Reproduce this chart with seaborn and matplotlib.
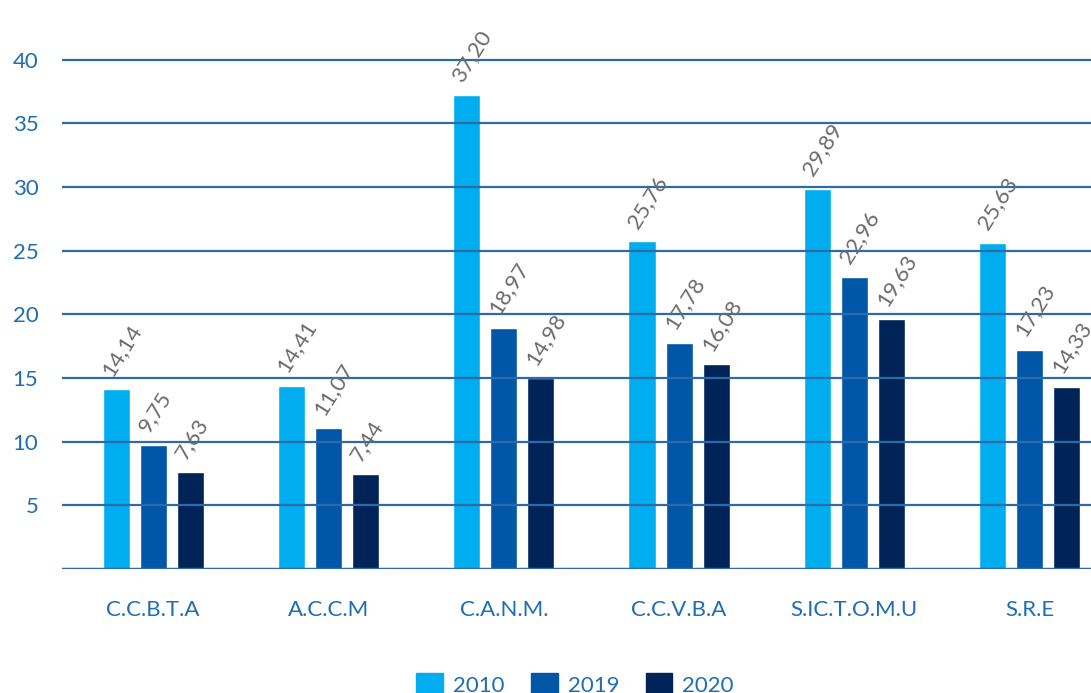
import numpy as np
import pandas as pd
import matplotlib
matplotlib.use("Agg")
import matplotlib.pyplot as plt
import seaborn as sns

# data
categories = ["C.C.B.T.A", "A.C.C.M", "C.A.N.M.", "C.C.V.B.A", "S.IC.T.O.M.U", "S.R.E"]
years = ["2010", "2019", "2020"]
values_2010 = [14.14, 14.41, 37.20, 25.76, 29.89, 25.63]
values_2019 = [9.75, 11.07, 18.97, 17.78, 22.96, 17.23]
values_2020 = [7.63, 7.44, 14.98, 16.08, 19.63, 14.33]
colors = ["#00AEEF", "#0057A8", "#002458"]

df = pd.DataFrame({
    "Category": categories * 3,
    "Year": [y for y in years for _ in categories],
    "Value": values_2010 + values_2019 + values_2020,
})

sns.set_theme(style="white")
plt.rcParams["font.family"] = ["Lato", "DejaVu Sans"]

fig = plt.figure(figsize=(10.91, 6.93), dpi=100)
ax = fig.add_axes([62 / 1091, 124 / 693, 1 - 62 / 1091, 569 / 693])

sns.barplot(data=df, x="Category", y="Value", hue="Year", hue_order=years,
            palette=colors, width=0.634, gap=0.27, saturation=1, ax=ax,
            legend=False)

# rotated value labels above each bar
for cont, year in zip(ax.containers, years):
    vals = df[df["Year"] == year]["Value"].tolist()
    for bar, v in zip(cont, vals):
        ax.annotate(f"{v:.2f}".replace(".", ","),
                    xy=(bar.get_x() + bar.get_width() / 2, bar.get_height()),
                    xytext=(-1, 7), textcoords="offset points",
                    rotation=58, rotation_mode="anchor", ha="left", va="bottom",
                    fontsize=16, color="#6b6b6b", annotation_clip=False)

ax.set_xlim(-0.52, 5.35)
ax.set_ylim(0, 44.7)
ax.set_yticks([5, 10, 15, 20, 25, 30, 35, 40])
ax.set_axisbelow(False)
ax.grid(axis="y", color="#2f6aa8", linewidth=1.6)
ax.axhline(0, color="#2f6aa8", linewidth=2.5, zorder=3)
for s in ax.spines.values():
    s.set_visible(False)
ax.tick_params(axis="y", length=0, pad=17, labelsize=16, labelcolor="#1f6db3")
ax.tick_params(axis="x", length=0, pad=22, labelsize=16, labelcolor="#1f6db3")
ax.set_xlabel("")
ax.set_ylabel("")

handles = [plt.Rectangle((0, 0), 1, 1, color=c) for c in colors]
fig.legend(handles, years, loc="center", bbox_to_anchor=(0.527, 0.012), ncol=3,
           frameon=False, fontsize=16, labelcolor="#1f6db3",
           handlelength=1.2, handleheight=1.2, handletextpad=0.45,
           columnspacing=1.2)

fig.savefig("out.png", dpi=100)
